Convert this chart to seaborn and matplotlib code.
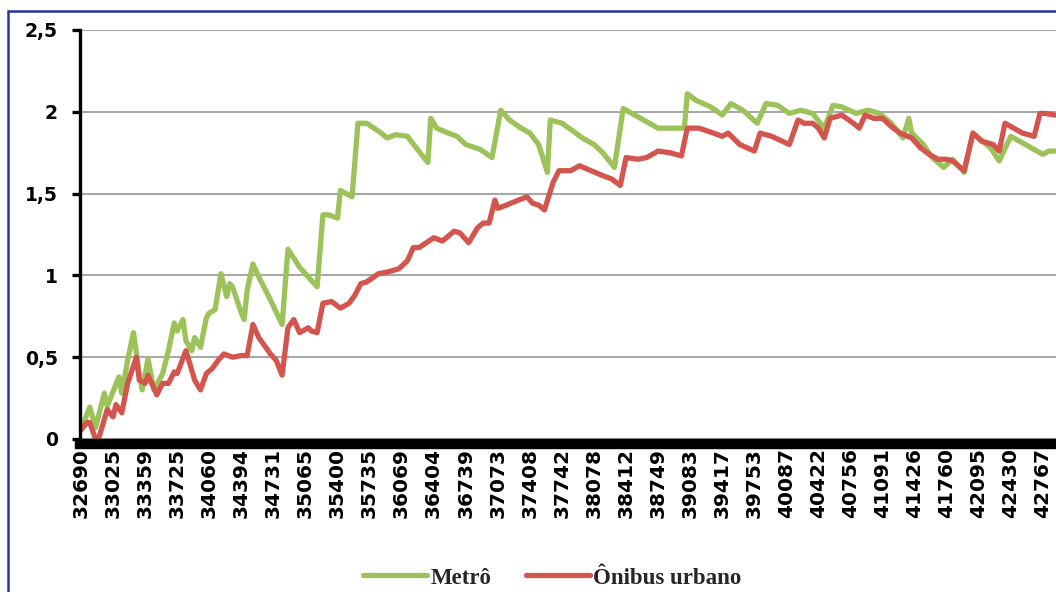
import matplotlib
matplotlib.use("Agg")
import matplotlib.pyplot as plt
import matplotlib.patches as mpatches
import seaborn as sns
import pandas as pd

metro_month = [0, 3, 5, 8, 9, 13, 14, 16, 18, 20, 21, 23, 25, 28, 30, 32, 33, 35, 36, 38,
               39, 41, 43, 44, 46, 48, 50, 51, 52, 55, 56, 57, 59, 61, 65, 69, 71, 75, 79, 81,
               83, 85, 88, 89, 91, 93, 95, 98, 103, 105, 108, 112, 115, 119, 120, 122, 126, 129, 132, 137,
               141, 144, 147, 151, 154, 157, 160, 161, 165, 169, 172, 176, 179, 183, 186, 189, 193, 198, 203, 207,
               208, 211, 216, 220, 223, 227, 232, 235, 239, 243, 247, 251, 255, 258, 261, 266, 270, 274, 278, 282,
               284, 285, 289, 292, 296, 299, 303, 306, 308, 312, 315, 319, 323, 327, 330, 332, 334]
metro_value = [0.055, 0.195, 0.07, 0.28, 0.20, 0.38, 0.28, 0.48, 0.65, 0.40, 0.30, 0.49, 0.30, 0.40, 0.54, 0.71, 0.66, 0.73, 0.60, 0.54,
               0.62, 0.56, 0.74, 0.77, 0.79, 1.01, 0.87, 0.95, 0.93, 0.77, 0.73, 0.91, 1.07, 0.99, 0.85, 0.70, 1.16, 1.05, 0.97, 0.93,
               1.37, 1.37, 1.35, 1.52, 1.50, 1.48, 1.93, 1.93, 1.87, 1.84, 1.86, 1.85, 1.78, 1.69, 1.96, 1.90, 1.87, 1.85, 1.80, 1.77,
               1.72, 2.01, 1.95, 1.90, 1.87, 1.80, 1.63, 1.95, 1.93, 1.88, 1.84, 1.80, 1.75, 1.66, 2.02, 1.99, 1.95, 1.90, 1.90, 1.90,
               2.11, 2.07, 2.03, 1.98, 2.05, 2.01, 1.93, 2.05, 2.04, 1.99, 2.01, 1.99, 1.90, 2.04, 2.03, 1.99, 2.01, 1.99, 1.93, 1.84,
               1.96, 1.87, 1.80, 1.72, 1.66, 1.71, 1.63, 1.87, 1.84, 1.78, 1.70, 1.85, 1.81, 1.77, 1.74, 1.76, 1.76]

onibus_month = [0, 2, 3, 5, 6, 9, 11, 12, 14, 16, 19, 20, 22, 23, 26, 28, 30, 32, 33, 36,
                38, 39, 41, 43, 45, 47, 49, 52, 55, 57, 59, 61, 65, 67, 69, 71, 73, 75, 78, 79,
                81, 83, 86, 89, 92, 94, 96, 98, 102, 105, 109, 112, 114, 116, 121, 124, 128, 130, 133, 136,
                138, 140, 142, 143, 146, 150, 153, 155, 157, 159, 162, 164, 168, 171, 175, 179, 182, 185, 187, 191,
                194, 198, 202, 206, 208, 212, 217, 220, 222, 226, 231, 233, 237, 243, 246, 248, 251, 253, 255, 257,
                261, 265, 267, 269, 272, 275, 278, 281, 285, 288, 291, 294, 297, 299, 303, 306, 309, 313, 315, 317,
                320, 323, 327, 329, 331, 334]
onibus_value = [0.055, 0.10, 0.10, 0.0, 0.0, 0.18, 0.135, 0.21, 0.16, 0.34, 0.50, 0.36, 0.34, 0.39, 0.27, 0.34, 0.34, 0.41, 0.40, 0.54,
                0.42, 0.36, 0.30, 0.40, 0.43, 0.48, 0.52, 0.50, 0.51, 0.51, 0.70, 0.62, 0.52, 0.48, 0.39, 0.68, 0.73, 0.65, 0.68, 0.66,
                0.65, 0.83, 0.84, 0.80, 0.83, 0.88, 0.95, 0.96, 1.01, 1.02, 1.04, 1.09, 1.17, 1.17, 1.23, 1.21, 1.27, 1.26, 1.20, 1.29,
                1.32, 1.32, 1.46, 1.41, 1.43, 1.46, 1.48, 1.44, 1.43, 1.40, 1.57, 1.64, 1.64, 1.67, 1.64, 1.61, 1.59, 1.55, 1.72, 1.71,
                1.72, 1.76, 1.75, 1.73, 1.90, 1.90, 1.87, 1.85, 1.87, 1.80, 1.76, 1.87, 1.85, 1.80, 1.95, 1.93, 1.93, 1.90, 1.84, 1.96,
                1.98, 1.93, 1.90, 1.98, 1.96, 1.96, 1.91, 1.87, 1.84, 1.78, 1.74, 1.71, 1.71, 1.70, 1.64, 1.87, 1.82, 1.80, 1.76, 1.93,
                1.90, 1.87, 1.85, 1.99, 1.99, 1.98]

tick_labels = ["32690", "33025", "33359", "33725", "34060", "34394", "34731", "35065", "35400", "35735",
               "36069", "36404", "36739", "37073", "37408", "37742", "38078", "38412", "38749", "39083",
               "39417", "39753", "40087", "40422", "40756", "41091", "41426", "41760", "42095", "42430", "42767"]
tick_step = 11
y_ticks = [0, 0.5, 1, 1.5, 2, 2.5]
y_tick_labels = ["0", "0,5", "1", "1,5", "2", "2,5"]
series_names = ["Metrô", "Ônibus urbano"]
colors = {"Metrô": "#9cc25a", "Ônibus urbano": "#d4554d"}

df = pd.concat([
    pd.DataFrame({"mes": metro_month, "valor": metro_value, "serie": series_names[0]}),
    pd.DataFrame({"mes": onibus_month, "valor": onibus_value, "serie": series_names[1]}),
], ignore_index=True)

sns.set_theme(style="white")
plt.rcParams["font.family"] = ["DejaVu Sans"]

W, H = 1056, 592
fig = plt.figure(figsize=(W / 100, H / 100), dpi=100)
ax = fig.add_axes([80 / W, 1 - 439 / H, 1 - 80 / W, (439 - 30) / H])

sns.lineplot(data=df, x="mes", y="valor", hue="serie", hue_order=series_names,
             palette=colors, linewidth=3.8, ax=ax, legend=False, sort=False, estimator=None)

ax.set_ylim(0, 2.5)
ax.set_xlim(-0.34, 334.5)
ax.set_xlabel("")
ax.set_ylabel("")

for s in ["top", "right"]:
    ax.spines[s].set_visible(False)
ax.spines["left"].set_color("black")
ax.spines["left"].set_linewidth(2.4)
ax.spines["bottom"].set_color("black")
ax.spines["bottom"].set_linewidth(7.5)
ax.spines["bottom"].set_position(("outward", 3.6))
ax.spines["bottom"].set_zorder(5)

ax.tick_params(axis="y", which="major", left=True, length=6, width=2.4, color="black",
               pad=10, labelcolor="black")
ax.tick_params(axis="x", which="major", bottom=False, length=0, pad=3, labelcolor="black",
               labelrotation=90)

ax.set_yticks(y_ticks)
ax.set_yticklabels(y_tick_labels, fontsize=13.5, fontweight="bold")
ax.set_xticks([i * tick_step for i in range(len(tick_labels))])
ax.set_xticklabels(tick_labels, rotation=90, fontsize=14.5, fontweight="bold")

ax.grid(axis="y", color="#a8a8a8", linewidth=1.5)
ax.grid(axis="x", visible=False)
ax.set_axisbelow(True)

handles = [plt.Line2D([0], [0], color=colors[n], linewidth=3.8) for n in series_names]
fig.legend(handles, series_names, loc="center", bbox_to_anchor=(552 / W, 1 - 578 / H),
           ncol=2, frameon=False, handlelength=2.8, handletextpad=0.15, columnspacing=1.5,
           prop={"family": "Liberation Serif", "weight": "bold", "size": 16.5})

border = mpatches.Rectangle((8 / W, -0.2), 1.2, 1.2 - 11 / H, transform=fig.transFigure,
                            fill=False, edgecolor="#27359a", linewidth=1.8, clip_on=False)
fig.patches.append(border)

fig.savefig("out.png", dpi=100)
